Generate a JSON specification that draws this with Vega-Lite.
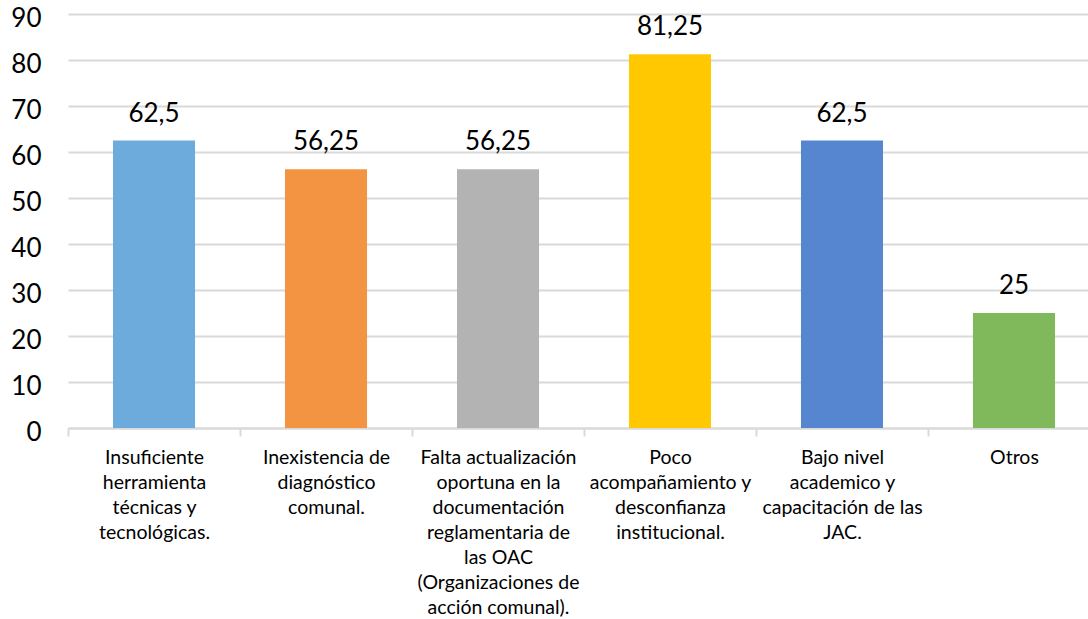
{
  "$schema": "https://vega.github.io/schema/vega-lite/v6.json",
  "width": 1020,
  "height": 414,
  "autosize": {"type": "none"},
  "padding": {"left": 68, "top": 14, "right": 0, "bottom": 191},
  "background": "white",
  "config": {
    "view": {"stroke": null},
    "font": "Lato",
    "locale": {"number": {"decimal": ",", "thousands": ".", "grouping": [3], "currency": ["", ""]}}
  },
  "data": {
    "values": [
      {"categoria": "Insuficiente|herramienta|técnicas y|tecnológicas.", "valor": 62.5, "color": "#6DABDC"},
      {"categoria": "Inexistencia de|diagnóstico|comunal.", "valor": 56.25, "color": "#F29441"},
      {"categoria": "Falta actualización|oportuna en la|documentación|reglamentaria de|las OAC|(Organizaciones de|acción comunal).", "valor": 56.25, "color": "#B3B3B3"},
      {"categoria": "Poco|acompañamiento y|desconfianza|institucional.", "valor": 81.25, "color": "#FFC800"},
      {"categoria": "Bajo nivel|academico y|capacitación de las|JAC.", "valor": 62.5, "color": "#5586CF"},
      {"categoria": "Otros", "valor": 25, "color": "#80B85C"}
    ]
  },
  "encoding": {
    "x": {
      "field": "categoria",
      "type": "nominal",
      "sort": null,
      "scale": {"range": [0, 1032], "paddingInner": 0.523, "paddingOuter": 0.2616},
      "axis": {
        "title": null,
        "labelAngle": 0,
        "labelExpr": "split(datum.label, '|')",
        "labelFont": "Lato",
        "labelFontSize": 19.5,
        "labelLineHeight": 25,
        "labelColor": "#000000",
        "labelPadding": 12,
        "labelLimit": 0,
        "labelBaseline": "top",
        "domainColor": "#D9D9D9",
        "domainWidth": 2,
        "tickColor": "#D9D9D9",
        "tickWidth": 2,
        "tickSize": 8,
        "tickBand": "center",
        "tickOffset": -86,
        "labelOffset": 86,
        "grid": false
      }
    },
    "y": {
      "field": "valor",
      "type": "quantitative",
      "scale": {"domain": [0, 90], "nice": false},
      "axis": {
        "title": null,
        "values": [0, 10, 20, 30, 40, 50, 60, 70, 80, 90],
        "labelFont": "Lato",
        "labelFontSize": 26,
        "labelColor": "#000000",
        "labelPadding": 27,
        "labelOffset": 4,
        "ticks": false,
        "domain": false,
        "gridColor": "#D9D9D9",
        "gridWidth": 2
      }
    }
  },
  "layer": [
    {
      "mark": {"type": "bar"},
      "encoding": {
        "color": {"field": "color", "type": "nominal", "scale": null, "legend": null}
      }
    },
    {
      "mark": {"type": "text", "baseline": "bottom", "dy": -14, "fontSize": 26, "font": "Lato", "color": "#000000"},
      "encoding": {
        "text": {"field": "valor", "type": "quantitative", "format": ".4~g"}
      }
    }
  ]
}
